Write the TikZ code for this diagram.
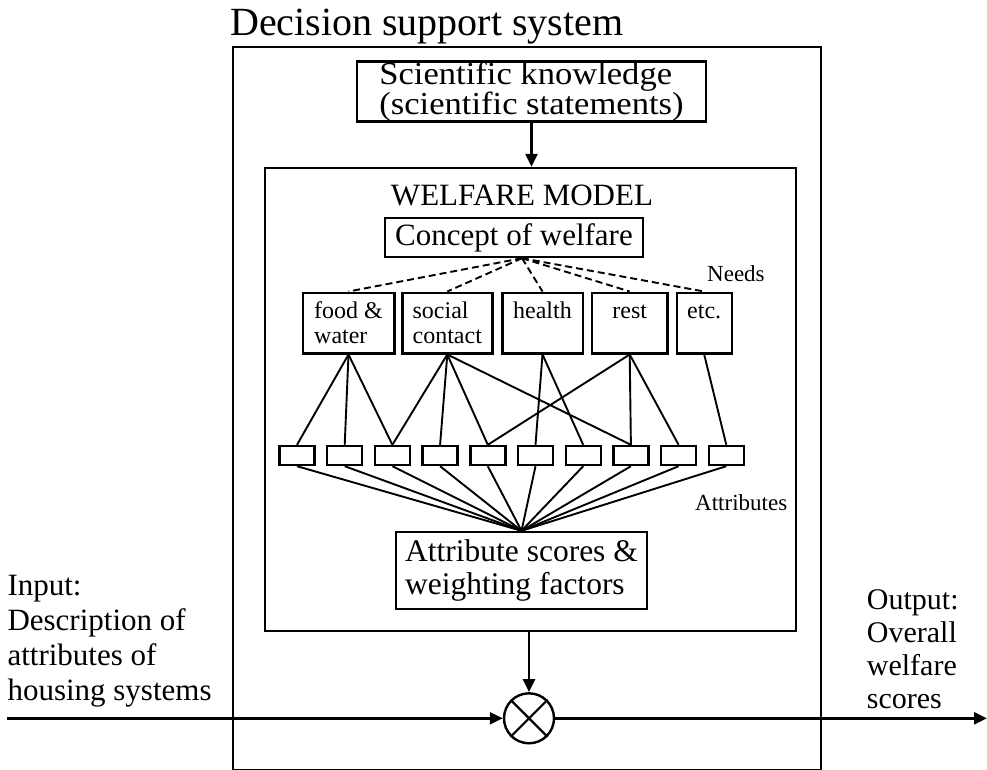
\documentclass[tikz,border=0pt]{standalone}
\usepackage{fontspec}
\setmainfont{Liberation Serif}
% a slightly wider cut of the same face for the knowledge box
\newfontfamily\widefont{Liberation Serif}[FakeStretch=1.08]
\usetikzlibrary{arrows.meta,calc}
\newcommand\fsz[2]{\fontsize{#1}{#2}\selectfont}
% struts that fix the first baseline and the bottom of the need boxes
\newcommand\hi{\rule{0pt}{17.5pt}}
\newcommand\lo{\rule[-2.5pt]{0pt}{2.5pt}}
\begin{document}
\begin{tikzpicture}[x=1pt,y=-1pt,
  box/.style={draw, line width=2.4pt, inner sep=0pt},
  link/.style={line width=1.9pt},
  dashlink/.style={line width=1.9pt, dash pattern=on 7pt off 4pt},
  arr/.style={line width=2.4pt, -{Triangle[length=13pt,width=12pt]}},
  needbox/.style={box, minimum height=60.6pt, align=left, font=\fsz{24}{25}},
  attrbox/.style={box, minimum width=35pt, minimum height=19pt},
  label/.style={inner sep=0pt},
]
\useasboundingbox (0,0) rectangle (987,770);

% outer frame and title
\node[label, anchor=base west, font=\fsz{40}{44}] (title) at (230,36) {Decision support system};
\node[box, anchor=north west, minimum width=588.5pt, minimum height=722.5pt] (dss) at (231.5,46) {};

% scientific knowledge feeding the welfare model
\node[box, minimum width=349pt, minimum height=57pt, align=left, font=\widefont\fsz{32}{27}] (sci) at (531.5,91.5)
  {Scientific knowledge\\(scientific statements)};
\node[box, minimum width=531pt, minimum height=463pt] (wm) at (530.5,399.5) {};
\node[label, anchor=base, font=\fsz{31}{34}] (wmlabel) at (522,205) {WELFARE MODEL};
\node[box, minimum width=258pt, minimum height=39pt, font=\fsz{31}{33}] (concept) at (514,237.5) {Concept of welfare};

% needs
\node[label, anchor=base west, font=\fsz{23}{25}] (needs) at (707,281.7) {Needs};
\node[needbox, minimum width=91.6pt] (food)   at (348.5,323) {\hi food \&\\water\lo};
\node[needbox, minimum width=90pt]   (social) at (447.3,323) {\hi social\\contact\lo};
\node[needbox, minimum width=80.4pt] (health) at (542.5,323) {\hi health\\\lo};
\node[needbox, minimum width=75.3pt] (rest)   at (629.7,323) {\hi rest\\\lo};
\node[needbox, minimum width=55pt]   (etc)    at (704.2,323) {\hi etc.\\\lo};

% attributes
\foreach \i in {1,...,10}
  \node[attrbox] (a\i) at ({297+47.7*(\i-1)},455.5) {};
\node[label, anchor=base west, font=\fsz{23}{25}] (attrlabel) at (695,510) {Attributes};

\node[box, minimum width=251pt, minimum height=77pt, align=left, font=\fsz{31.5}{33}] (scores) at (521.5,570.5)
  {Attribute scores \&\\weighting factors};

% combining operator
\node[draw, circle, line width=2.4pt, minimum size=50pt, inner sep=0pt] (mul) at (529,718.3) {};
\draw[line width=2.2pt] (mul.north west) -- (mul.south east) (mul.north east) -- (mul.south west);

% input and output texts
\node[label, anchor=north west, align=left, font=\fsz{31}{35}] (input) at (7.3,570.5)
  {\strut Input:\\Description of\\attributes of\\housing systems};
\node[label, anchor=north west, align=left, font=\fsz{30}{33}] (output) at (866.7,585.9)
  {\strut Output:\\Overall\\welfare\\scores};

% connectors: concept to needs
\coordinate (hub) at ($(concept.south)+(8,0)$);
\foreach \n in {food,social,health,rest,etc}
  \draw[dashlink] (hub) -- (\n.north);

% needs to attributes
\foreach \s/\t in {food/a1,food/a2,food/a3,social/a3,social/a4,social/a5,social/a8,
                   health/a6,health/a7,rest/a5,rest/a8,rest/a9,etc/a10}
  \draw[link] (\s.south) -- (\t.north);

% attributes to scores
\foreach \i in {1,...,10}
  \draw[link] (a\i.south) -- (scores.north);

% flow arrows
\draw[arr] (sci.south) -- (sci.south |- wm.north);
\draw[arr] (mul.north |- wm.south) -- (mul.north);
\coordinate (in) at (7.3,718.3);
\coordinate (out) at (987,718.3);
\draw[arr] (in) -- (mul.west);
\draw[arr] (mul.east) -- (out);
\end{tikzpicture}
\end{document}
